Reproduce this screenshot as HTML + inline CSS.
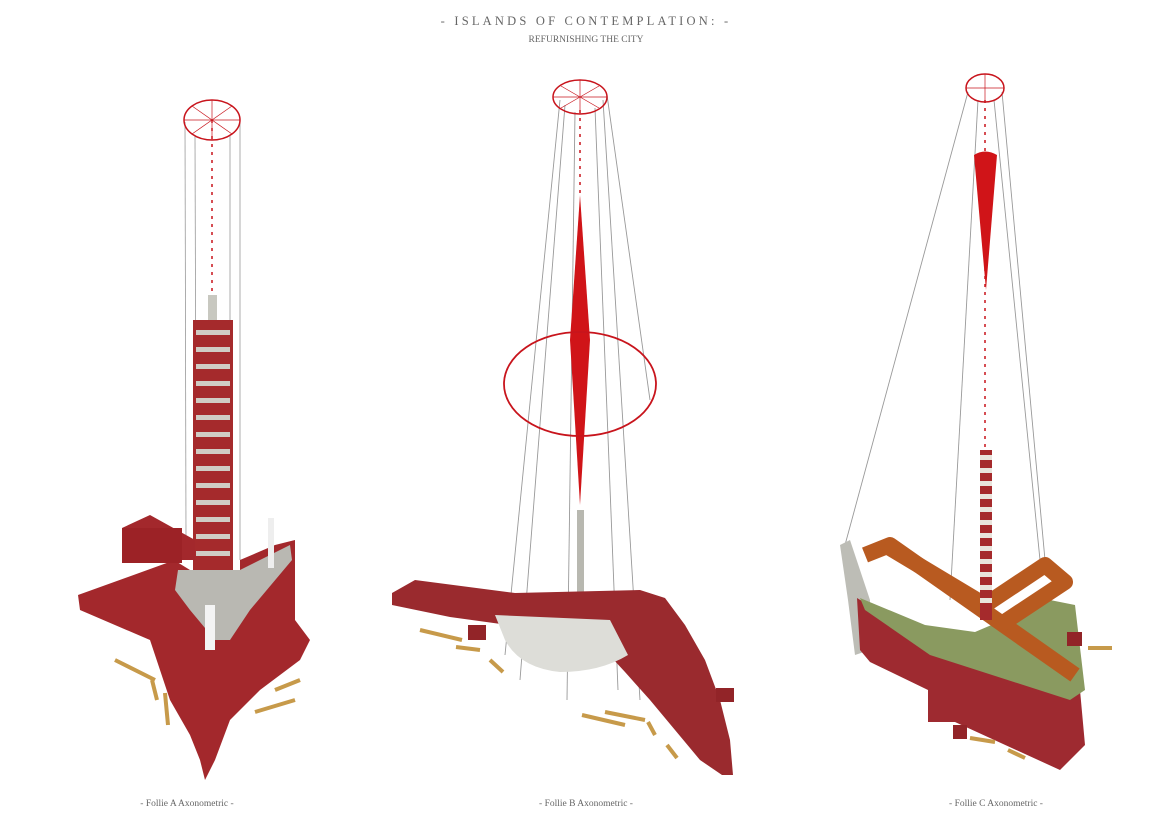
<!DOCTYPE html>
<html><head><meta charset="utf-8"><style>
html,body{margin:0;padding:0;background:#fff;}
svg{display:block}
text{font-family:"Liberation Serif",serif;fill:#666}
</style></head><body>
<svg width="1172" height="826" viewBox="0 0 1172 826" xmlns="http://www.w3.org/2000/svg">
<rect width="1172" height="826" fill="#fff"/>
<text x="586" y="25" text-anchor="middle" font-size="12.5" letter-spacing="3.2">- ISLANDS OF CONTEMPLATION: -</text>
<text x="586" y="42" text-anchor="middle" font-size="9.5">REFURNISHING THE CITY</text>
<text x="187" y="806" text-anchor="middle" font-size="9.5">- Follie A Axonometric -</text>
<text x="586" y="806" text-anchor="middle" font-size="9.5">- Follie B Axonometric -</text>
<text x="996" y="806" text-anchor="middle" font-size="9.5">- Follie C Axonometric -</text>

<!-- ===== Follie A ===== -->
<g stroke="#999" stroke-width="0.8">
<line x1="185" y1="122" x2="186" y2="540"/><line x1="240" y1="122" x2="240" y2="560"/>
<line x1="195" y1="135" x2="196" y2="470"/><line x1="230" y1="135" x2="230" y2="470"/>
</g>
<ellipse cx="212" cy="120" rx="28" ry="20" fill="none" stroke="#c8141c" stroke-width="1.5"/>
<g stroke="#c8141c" stroke-width="0.7"><line x1="184" y1="120" x2="240" y2="120"/><line x1="212" y1="100" x2="212" y2="140"/><line x1="192" y1="106" x2="232" y2="134"/><line x1="232" y1="106" x2="192" y2="134"/></g>
<line x1="212" y1="120" x2="212" y2="300" stroke="#c8141c" stroke-width="1.5" stroke-dasharray="3 5"/>
<rect x="208" y="295" width="9" height="40" fill="#c8c8c0"/>
<rect x="193" y="320" width="40" height="260" fill="#a52a2c"/>
<g fill="#d0ccc4">
<rect x="196" y="330" width="34" height="5"/><rect x="196" y="347" width="34" height="5"/><rect x="196" y="364" width="34" height="5"/><rect x="196" y="381" width="34" height="5"/><rect x="196" y="398" width="34" height="5"/><rect x="196" y="415" width="34" height="5"/><rect x="196" y="432" width="34" height="5"/><rect x="196" y="449" width="34" height="5"/><rect x="196" y="466" width="34" height="5"/><rect x="196" y="483" width="34" height="5"/><rect x="196" y="500" width="34" height="5"/><rect x="196" y="517" width="34" height="5"/><rect x="196" y="534" width="34" height="5"/><rect x="196" y="551" width="34" height="5"/></g>
<!-- base -->
<polygon points="122,528 150,515 195,540 195,560 175,560 78,595 80,610 150,640 170,700 190,735 200,760 205,780 215,760 230,720 260,690 300,660 310,640 295,620 295,540 275,545 240,560 240,590 225,600 195,600 190,570" fill="#a3282c"/>
<polygon points="178,570 240,570 290,545 292,560 250,610 230,640 215,640 190,610 175,590" fill="#b9b8b2"/>
<rect x="122" y="528" width="60" height="35" fill="#9c2226"/>
<rect x="205" y="605" width="10" height="45" fill="#f4f4f4"/>
<rect x="268" y="518" width="6" height="50" fill="#eee"/>
<g stroke="#c79a4a" stroke-width="4"><line x1="115" y1="660" x2="155" y2="680"/><line x1="152" y1="680" x2="157" y2="700"/><line x1="165" y1="693" x2="168" y2="725"/><line x1="255" y1="712" x2="295" y2="700"/><line x1="275" y1="690" x2="300" y2="680"/></g>

<!-- ===== Follie B ===== -->
<g stroke="#999" stroke-width="0.9">
<line x1="560" y1="100" x2="505" y2="655"/><line x1="565" y1="105" x2="520" y2="680"/>
<line x1="575" y1="112" x2="567" y2="700"/><line x1="595" y1="108" x2="618" y2="690"/>
<line x1="603" y1="100" x2="640" y2="700"/><line x1="607" y1="95" x2="650" y2="400"/>
</g>
<ellipse cx="580" cy="97" rx="27" ry="17" fill="none" stroke="#c8141c" stroke-width="1.5"/>
<g stroke="#c8141c" stroke-width="0.7"><line x1="553" y1="97" x2="607" y2="97"/><line x1="580" y1="80" x2="580" y2="114"/><line x1="561" y1="86" x2="599" y2="108"/><line x1="599" y1="86" x2="561" y2="108"/></g>
<line x1="580" y1="110" x2="580" y2="195" stroke="#c8141c" stroke-width="1.5" stroke-dasharray="3 5"/>
<polygon points="580,195 590,340 580,505 570,340" fill="#d01418"/>
<ellipse cx="580" cy="384" rx="76" ry="52" fill="none" stroke="#c8141c" stroke-width="1.8"/>
<rect x="577" y="510" width="7" height="125" fill="#b8b8b0"/>
<polygon points="392,593 415,580 515,593 640,590 665,598 685,625 705,660 720,700 730,740 733,775 722,775 700,760 675,730 650,700 625,672 600,645 560,628 515,626 450,617 392,605" fill="#9a2a2e"/>
<path d="M495,615 L610,620 L628,655 Q600,672 560,672 Q520,668 505,640 Z" fill="#ddddd8"/>
<rect x="468" y="625" width="18" height="15" fill="#922428"/>
<rect x="716" y="688" width="18" height="14" fill="#922428"/>
<g stroke="#c79a4a" stroke-width="4"><line x1="420" y1="630" x2="462" y2="640"/><line x1="456" y1="647" x2="480" y2="650"/><line x1="490" y1="660" x2="503" y2="672"/><line x1="582" y1="715" x2="625" y2="725"/><line x1="605" y1="712" x2="645" y2="720"/><line x1="648" y1="722" x2="655" y2="735"/><line x1="667" y1="745" x2="677" y2="758"/></g>

<!-- ===== Follie C ===== -->
<g stroke="#999" stroke-width="0.9">
<line x1="968" y1="92" x2="845" y2="545"/><line x1="1002" y1="92" x2="1045" y2="560"/>
<line x1="978" y1="100" x2="950" y2="600"/><line x1="994" y1="100" x2="1040" y2="560"/>
</g>
<ellipse cx="985" cy="88" rx="19" ry="14" fill="none" stroke="#c8141c" stroke-width="1.5"/>
<g stroke="#c8141c" stroke-width="0.7"><line x1="966" y1="88" x2="1004" y2="88"/><line x1="985" y1="74" x2="985" y2="102"/></g>
<line x1="985" y1="100" x2="985" y2="450" stroke="#c8141c" stroke-width="1.5" stroke-dasharray="3 5"/>
<path d="M974,155 Q985,148 997,155 L986,290 Z" fill="#d01418"/>
<polygon points="840,545 850,540 870,600 870,650 855,655 848,600" fill="#bdbdb6"/>
<polygon points="857,598 925,640 1080,690 1085,745 1060,770 955,722 928,722 928,690 870,662 860,650" fill="#9e2a30"/>
<polygon points="860,598 925,625 975,632 1050,600 1075,605 1085,690 1070,700 930,655 865,610" fill="#8a9a60"/>
<g fill="none" stroke="#b85a20" stroke-width="16" stroke-linejoin="round">
<path d="M865,555 L890,545 L1075,675"/>
<path d="M885,545 L985,605 L1045,565 L1065,582 L1000,625"/>
</g>
<rect x="980" y="450" width="12" height="170" fill="#a52a2c"/>
<g fill="#e8e4dc"><rect x="980" y="455" width="12" height="5"/><rect x="980" y="468" width="12" height="5"/><rect x="980" y="481" width="12" height="5"/><rect x="980" y="494" width="12" height="5"/><rect x="980" y="507" width="12" height="5"/><rect x="980" y="520" width="12" height="5"/><rect x="980" y="533" width="12" height="5"/><rect x="980" y="546" width="12" height="5"/><rect x="980" y="559" width="12" height="5"/><rect x="980" y="572" width="12" height="5"/><rect x="980" y="585" width="12" height="5"/><rect x="980" y="598" width="12" height="5"/></g>
<rect x="1067" y="632" width="15" height="14" fill="#922428"/>
<rect x="953" y="725" width="14" height="14" fill="#922428"/>
<g stroke="#c79a4a" stroke-width="4"><line x1="1088" y1="648" x2="1112" y2="648"/><line x1="970" y1="738" x2="995" y2="742"/><line x1="1008" y1="750" x2="1025" y2="758"/></g>
</svg>
</body></html>
